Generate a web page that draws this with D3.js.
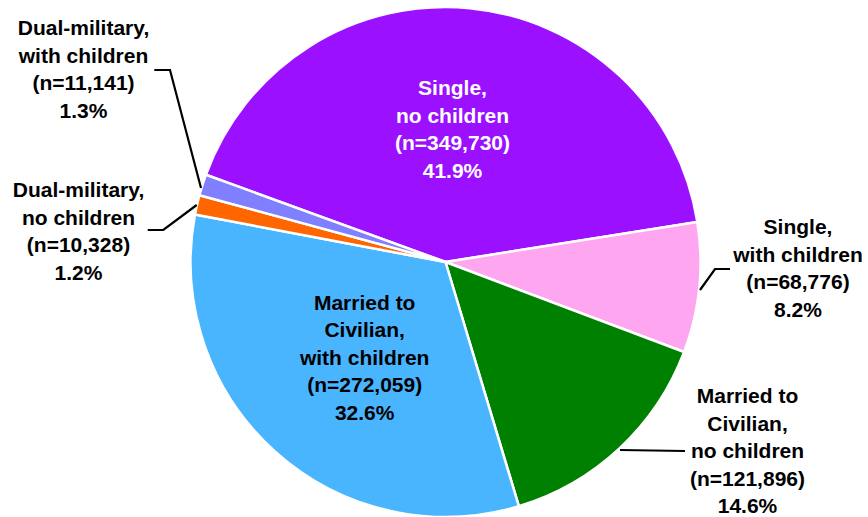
<!DOCTYPE html>
<html><head><meta charset="utf-8">
<script src="https://cdn.jsdelivr.net/npm/d3@7"></script>
<style>html,body{margin:0;padding:0;background:#fff;}svg{display:block;}</style>
</head><body>
<svg id="chart" width="868" height="517"></svg>
<script>
const categories = ["Single, no children","Single, with children","Married to Civilian, no children","Married to Civilian, with children","Dual-military, no children","Dual-military, with children"];
const counts = [349730, 68776, 121896, 272059, 10328, 11141];
const percents = ["41.9%","8.2%","14.6%","32.6%","1.2%","1.3%"];
const labelLines = [
  ["Single,","no children","(n=349,730)","41.9%"],
  ["Single,","with children","(n=68,776)","8.2%"],
  ["Married to","Civilian,","no children","(n=121,896)","14.6%"],
  ["Married to","Civilian,","with children","(n=272,059)","32.6%"],
  ["Dual-military,","no children","(n=10,328)","1.2%"],
  ["Dual-military,","with children","(n=11,141)","1.3%"]
];
const colors = ["#9B11FF","#FFA6F0","#008000","#4AB5FF","#FF6600","#7F7FFF"];

const svg = d3.select("#chart");
const cx = 445.5, cy = 262, R = 255;
const start = -70 * Math.PI/180;
const pie = d3.pie().sort(null).value(d => d).startAngle(start).endAngle(start + 2*Math.PI);
const arcs = pie(counts);
const arc = d3.arc().innerRadius(0).outerRadius(R);
const g = svg.append("g").attr("transform", `translate(${cx},${cy})`);
g.selectAll("path").data(arcs).join("path")
  .attr("d", arc).attr("fill", (d,i) => colors[i])
  .attr("stroke", "#fff").attr("stroke-width", 2.5).attr("stroke-linejoin","round");

const labelPos = [
  {x: 452.5, y: 95, fill: "#fff"},
  {x: 798, y: 234, fill: "#000"},
  {x: 747.5, y: 403, fill: "#000"},
  {x: 364.7, y: 309.5, fill: "#000"},
  {x: 78.5, y: 197, fill: "#000"},
  {x: 83.5, y: 35, fill: "#000"}
];
const lineH = 27.6;
labelLines.forEach((lines, i) => {
  const t = svg.append("text")
    .attr("text-anchor", "middle")
    .attr("font-family", "Liberation Sans, Arial, sans-serif")
    .attr("font-weight", "bold").attr("font-size", "21px")
    .attr("fill", labelPos[i].fill);
  lines.forEach((s, k) => {
    t.append("tspan").attr("x", labelPos[i].x).attr("y", labelPos[i].y + k*lineH).text(s);
  });
});

const leaders = [
  [[730,269],[715,269],[700,290]],
  [[685,451],[620,450]],
  [[147.7,230],[163.3,230],[196.7,205]],
  [[154.3,70],[170,70],[201,188]]
];
const line = d3.line();
svg.selectAll("path.leader").data(leaders).join("path")
  .attr("class","leader").attr("d", line)
  .attr("fill","none").attr("stroke","#000").attr("stroke-width",2.2);
</script>
</body></html>
